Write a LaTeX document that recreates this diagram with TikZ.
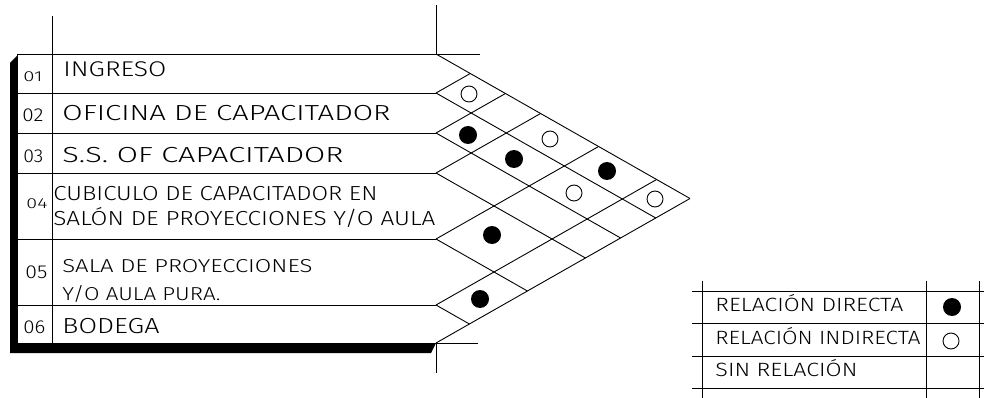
\documentclass[tikz,border=0pt]{standalone}
\usepackage{fontspec}
\setmainfont{Fira Sans}[UprightFont=* Light]
\usepackage{graphicx}
\newsavebox\cadbox
\newcommand\cadt[3]{\sbox\cadbox{\fontsize{#1}{#1}\selectfont #3}\pgfmathsetmacro\cadsx{#2/\the\wd\cadbox}\scalebox{\cadsx}[1]{\usebox\cadbox}}
\begin{document}
\begin{tikzpicture}[x=1pt,y=-1pt,line width=0.9pt,
  lbl/.style={anchor=base west, inner sep=0pt},
  dotfull/.style={circle, fill=black, inner sep=0pt, minimum size=18pt},
  dotopen/.style={circle, draw=black, line width=0.9pt, fill=white, inner sep=0pt, minimum size=16pt},
  shadow/.style={fill=black, draw=none}]
\useasboundingbox (0,0) rectangle (984,398);
% shadow
\fill[shadow] (17,56) -- (10,63) -- (10,353) -- (431,353) -- (436,343) -- (17,343) -- cycle;
% table frame
\coordinate (tl) at (17,54);
\coordinate (bl) at (17,343);
\coordinate (tr) at (436,54);
\coordinate (br) at (436,343);
\coordinate (apex) at (690,198.5);
\draw (tl) -- (480,54);
\draw (bl) -- (478,343);
\draw (tl) -- (bl);
\draw (52,16) -- (52,343);
\draw (436,5) -- (tr);
\draw (br) -- (436,373);
\foreach \b in {93,133,173,239,305} \draw (17,\b) -- (436,\b);
% matrix grid
\foreach \a in {54,93,133,173,239,305} \draw (436,\a) -- ({436+(343-\a)*0.8789},{(\a+343)/2});
\foreach \b in {93,133,173,239,305,343} \draw (436,\b) -- ({436+(\b-54)*0.8789},{(\b+54)/2});
% dots
\node[dotopen] (d12) at (469,94) {};
\node[dotfull] (d23) at (468,135) {};
\node[dotopen] (d14) at (550,139) {};
\node[dotfull] (d24) at (514,159) {};
\node[dotfull] (d15) at (607,171) {};
\node[dotopen] (d25) at (574,193) {};
\node[dotopen] (d16) at (655,199) {};
\node[dotfull] (d45) at (492,235) {};
\node[dotfull] (d56) at (480,299) {};
% numbers
\node[lbl] (n1) at (23,82) {\cadt{14.5}{19}{01}};
\node[lbl] (n2) at (22,122) {\cadt{18.7}{21}{02}};
\node[lbl] (n3) at (23,163) {\cadt{18.7}{20}{03}};
\node[lbl] (n4) at (26,208) {\cadt{14.5}{21}{04}};
\node[lbl] (n5) at (25,278) {\cadt{18.7}{22}{05}};
\node[lbl] (n6) at (23,333) {\cadt{18.7}{22}{06}};
% labels
\node[lbl] (t1) at (63,77) {\cadt{21.3}{103}{INGRESO}};
\node[lbl] (t2) at (62,121) {\cadt{21.8}{328}{OFICINA DE CAPACITADOR}};
\node[lbl] (t3) at (62,163) {\cadt{21.8}{281}{S.S. OF CAPACITADOR}};
\node[lbl] (t4a) at (53,200.5) {\cadt{20.3}{324}{CUBICULO DE CAPACITADOR EN}};
\node[lbl] (t4b) at (53,225.5) {\cadt{20.3}{382}{SALÓN DE PROYECCIONES Y/O AULA}};
\node[lbl] (t5a) at (62,272) {\cadt{18.7}{250}{SALA DE PROYECCIONES}};
\node[lbl] (t5b) at (62,300) {\cadt{18.7}{158}{Y/O AULA PURA.}};
\node[lbl] (t6) at (62,333) {\cadt{21.8}{97}{BODEGA}};
% legend
\foreach \b in {291,323,356,388} \draw (692,\b) -- (984,\b);
\foreach \v in {702,926,979} \draw (\v,281) -- (\v,398);
\node[lbl] (l1) at (715,311.7) {\cadt{19.2}{188}{RELACIÓN DIRECTA}};
\node[lbl] (l2) at (715,344) {\cadt{19.2}{205}{RELACIÓN INDIRECTA}};
\node[lbl] (l3) at (715,376.5) {\cadt{19.2}{142}{SIN RELACIÓN}};
\node[dotfull] (ld1) at (952,307) {};
\node[dotopen] (ld2) at (951,341) {};
\end{tikzpicture}
\end{document}
